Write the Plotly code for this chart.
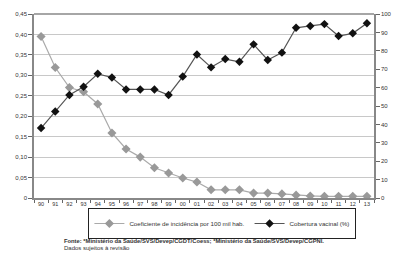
import plotly.graph_objects as go

years = ["90","91","92","93","94","95","96","97","98","99","00","01",
         "02","03","04","05","06","07","08","09","10","11","12","13"]
incidence = [0.395, 0.319, 0.27, 0.26, 0.23, 0.159, 0.12, 0.10, 0.074, 0.061, 0.049, 0.039,
             0.02, 0.02, 0.02, 0.012, 0.012, 0.01, 0.007, 0.005, 0.004, 0.004, 0.004, 0.004]
coverage = [38, 47, 56, 60.5, 67.5, 65.5, 59, 59, 59, 56, 66, 78,
            71, 75.5, 74, 83.5, 75, 79, 92.5, 93.5, 94.5, 88, 89.5, 95]
left_ticks = [0, 0.05, 0.10, 0.15, 0.20, 0.25, 0.30, 0.35, 0.40, 0.45]
left_labels = ["0", "0,05", "0,10", "0,15", "0,20", "0,25", "0,30", "0,35", "0,40", "0,45"]
right_ticks = [0, 10, 20, 30, 40, 50, 60, 70, 80, 90, 100]
name_inc = "Coeficiente de incidência por 100 mil hab."
name_cov = "Cobertura vacinal (%)"
source1 = "Fonte: *Ministério da Saúde/SVS/Devep/CGDT/Coess; *Ministério da Saúde/SVS/Devep/CGPNI."
source2 = "Dados sujeitos à revisão"

font = "Liberation Sans, Arial, sans-serif"

fig = go.Figure()
fig.add_trace(go.Scatter(
    x=years, y=incidence, name=name_inc, mode="lines+markers",
    line=dict(color="#aaaaaa", width=1.2),
    marker=dict(symbol="diamond", size=7, color="#999999"),
    yaxis="y"))
fig.add_trace(go.Scatter(
    x=years, y=coverage, name=name_cov, mode="lines+markers",
    line=dict(color="#555555", width=1.2),
    marker=dict(symbol="diamond", size=6.5, color="#111111"),
    yaxis="y2"))

fig.update_layout(
    width=400, height=254,
    margin=dict(l=34, r=26, t=14, b=56, autoexpand=False),
    paper_bgcolor="white", plot_bgcolor="white",
    font=dict(family=font, size=6, color="#333333"),
    showlegend=True,
    legend=dict(orientation="h", x=0.556, xanchor="center", xref="container",
                y=0.12, yanchor="middle", yref="container",
                bordercolor="#222222", borderwidth=1, font=dict(size=6.2),
                itemwidth=30, tracegroupgap=0),
    xaxis=dict(type="category", tickson="boundaries", ticks="outside", ticklen=3,
               tickangle=0, automargin=False,
               tickcolor="#666666", showline=True, linecolor="#888888", linewidth=1.5,
               showgrid=False, tickfont=dict(size=5.5), range=[-0.5, 23.5]),
    yaxis=dict(range=[0, 0.45], tickvals=left_ticks, ticktext=left_labels,
               ticks="outside", ticklen=4, tickcolor="#666666", automargin=False,
               showline=True, linecolor="#888888", linewidth=1.5,
               showgrid=True, gridcolor="#c8c8c8", gridwidth=1.2, zeroline=False,
               tickfont=dict(size=6)),
    yaxis2=dict(range=[0, 100], tickvals=right_ticks, overlaying="y", side="right",
                ticks="outside", ticklen=4, tickcolor="#666666", automargin=False,
                showline=True, linecolor="#888888", linewidth=1.5,
                showgrid=False, zeroline=False, tickfont=dict(size=6)),
    shapes=[dict(type="line", xref="paper", yref="paper", x0=0, x1=1, y0=1, y1=1,
                 line=dict(color="#888888", width=1.5))],
    annotations=[
        dict(text="<b>" + source1 + "</b>", xref="paper", yref="paper",
             x=0.082, y=-0.236, xanchor="left", yanchor="middle", showarrow=False,
             font=dict(size=5.8, color="#333333")),
        dict(text=source2, xref="paper", yref="paper",
             x=0.082, y=-0.27, xanchor="left", yanchor="middle", showarrow=False,
             font=dict(size=6, color="#333333")),
    ],
)

fig.write_html("out.html")
